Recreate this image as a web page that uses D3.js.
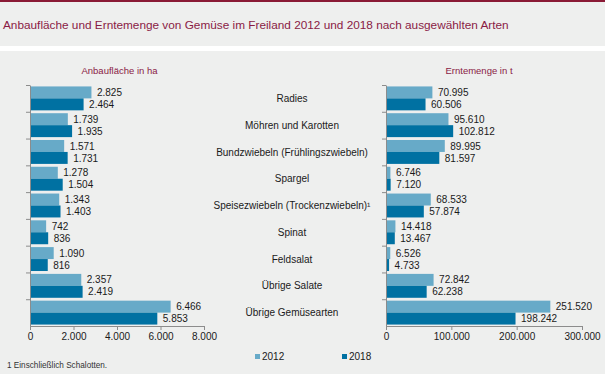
<!DOCTYPE html>
<html>
<head>
<meta charset="utf-8">
<script src="https://cdn.jsdelivr.net/npm/d3@7"></script>
<style>
body { margin: 0; background: #fff; }
text { font-family: "Liberation Sans", Arial, sans-serif; }
</style>
</head>
<body>
<script>

var categories = ["Radies", "Möhren und Karotten", "Bundzwiebeln (Frühlingszwiebeln)", "Spargel",
  "Speisezwiebeln (Trockenzwiebeln)¹", "Spinat", "Feldsalat", "Übrige Salate", "Übrige Gemüsearten"];
var years = ["2012", "2018"];
var flaeche2012 = [2825, 1739, 1571, 1278, 1343, 742, 1090, 2357, 6466];
var flaeche2018 = [2464, 1935, 1731, 1504, 1403, 836, 816, 2419, 5853];
var ernte2012 = [70995, 95610, 89995, 6746, 68533, 14418, 6526, 72842, 251520];
var ernte2018 = [60506, 102812, 81597, 7120, 57874, 13467, 4733, 62238, 198242];
var flaecheTicks = [0, 2000, 4000, 6000, 8000];
var ernteTicks = [0, 100000, 200000, 300000];

var width = 605, height = 374;
var colors = {"2012": "#67aac8", "2018": "#0071a2"};
var red = "#8a1b45", axisGrey = "#8c8c8c";

var de = d3.formatLocale({decimal: ",", thousands: ".", grouping: [3], currency: ["", " €"]});
var fmt = de.format(",d");

var svg = d3.select("body").append("svg")
  .attr("width", width)
  .attr("height", height);

// background + header
svg.append("rect").attr("width", width).attr("height", height).attr("fill", "#eeefee");
svg.append("rect").attr("y", 46).attr("width", width).attr("height", 5).attr("fill", "#ffffff");
svg.append("rect").attr("width", width).attr("height", 2).attr("fill", "#8a1a35");

svg.append("text")
  .attr("x", 3).attr("y", 29)
  .style("font-size", "11.8px")
  .style("fill", red)
  .text("Anbaufläche und Erntemenge von Gemüse im Freiland 2012 und 2018 nach ausgewählten Arten");

var plotTop = 85, plotBottom = 326;

var y0 = d3.scaleBand().domain(categories).range([plotTop, plotBottom]).padding(0);
var y1 = d3.scaleBand().domain(years).range([0, y0.bandwidth()]).paddingInner(0).paddingOuter(0.12);
var yIdx = d3.scaleLinear().domain([0, categories.length]).range([plotTop, plotBottom]);

function rows(a, b) {
  return categories.map(function (c, i) {
    return {cat: c, vals: [{year: "2012", v: a[i]}, {year: "2018", v: b[i]}]};
  });
}

function panel(x0, x1, maxV, tickVals, data, title, titleX) {
  var x = d3.scaleLinear().domain([0, maxV]).range([x0, x1]);
  var g = svg.append("g");

  g.append("text")
    .attr("x", titleX).attr("y", 74)
    .attr("text-anchor", "middle")
    .style("font-size", "9.5px")
    .style("fill", red)
    .text(title);

  var grp = g.selectAll(".cat")
    .data(data)
    .enter()
    .append("g")
    .attr("transform", function (d) { return "translate(0," + y0(d.cat) + ")"; });

  grp.selectAll("rect")
    .data(function (d) { return d.vals; })
    .enter()
    .append("rect")
    .attr("x", x(0))
    .attr("y", function (d) { return y1(d.year); })
    .attr("width", function (d) { return x(d.v) - x(0); })
    .attr("height", y1.bandwidth())
    .attr("fill", function (d) { return colors[d.year]; });

  grp.selectAll(".val")
    .data(function (d) { return d.vals; })
    .enter()
    .append("text")
    .attr("x", function (d) { return x(d.v) + 5.5; })
    .attr("y", function (d) { return y1(d.year) + y1.bandwidth() / 2; })
    .attr("dy", "0.36em")
    .style("font-size", "10px")
    .style("fill", "#1a1a1a")
    .text(function (d) { return fmt(d.v); });

  var ya = g.append("g")
    .attr("transform", "translate(" + x0 + ",0)")
    .call(d3.axisLeft(yIdx).tickValues(d3.range(0, categories.length)).tickSize(4).tickSizeOuter(0).tickFormat(""));
  ya.selectAll("path,line").attr("stroke", axisGrey);

  var xa = g.append("g")
    .attr("transform", "translate(0," + plotBottom + ")")
    .call(d3.axisBottom(x).tickValues(tickVals).tickSize(4).tickSizeOuter(0).tickFormat(fmt));
  xa.selectAll("path,line").attr("stroke", axisGrey);
  xa.selectAll("text")
    .attr("y", 7)
    .style("font-size", "10px")
    .style("font-family", "'Liberation Sans', Arial, sans-serif")
    .style("fill", "#1a1a1a");
}

panel(30, 204, 8000, flaecheTicks, rows(flaeche2012, flaeche2018), "Anbaufläche  in ha", 119.5);
panel(386, 582, 300000, ernteTicks, rows(ernte2012, ernte2018), "Erntemenge  in t", 479);

// category labels in the middle
svg.selectAll(".catlabel")
  .data(categories)
  .enter()
  .append("text")
  .attr("x", 292)
  .attr("y", function (d) { return y0(d) + y0.bandwidth() / 2; })
  .attr("dy", "0.36em")
  .attr("text-anchor", "middle")
  .style("font-size", "10px")
  .style("fill", "#1a1a1a")
  .text(function (d) { return d; });

// legend
var legend = svg.selectAll(".legend")
  .data(years)
  .enter()
  .append("g")
  .attr("transform", function (d, i) { return "translate(" + (255 + i * 87) + ",354)"; });

legend.append("rect")
  .attr("width", 5).attr("height", 5)
  .attr("fill", function (d) { return colors[d]; });

legend.append("text")
  .attr("x", 7).attr("y", 2.5)
  .attr("dy", "0.36em")
  .style("font-size", "10px")
  .style("fill", "#1a1a1a")
  .text(function (d) { return d; });

svg.append("text")
  .attr("x", 7).attr("y", 368)
  .style("font-size", "8.2px")
  .style("fill", "#333")
  .text("1 Einschließlich Schalotten.");

</script>
</body>
</html>
